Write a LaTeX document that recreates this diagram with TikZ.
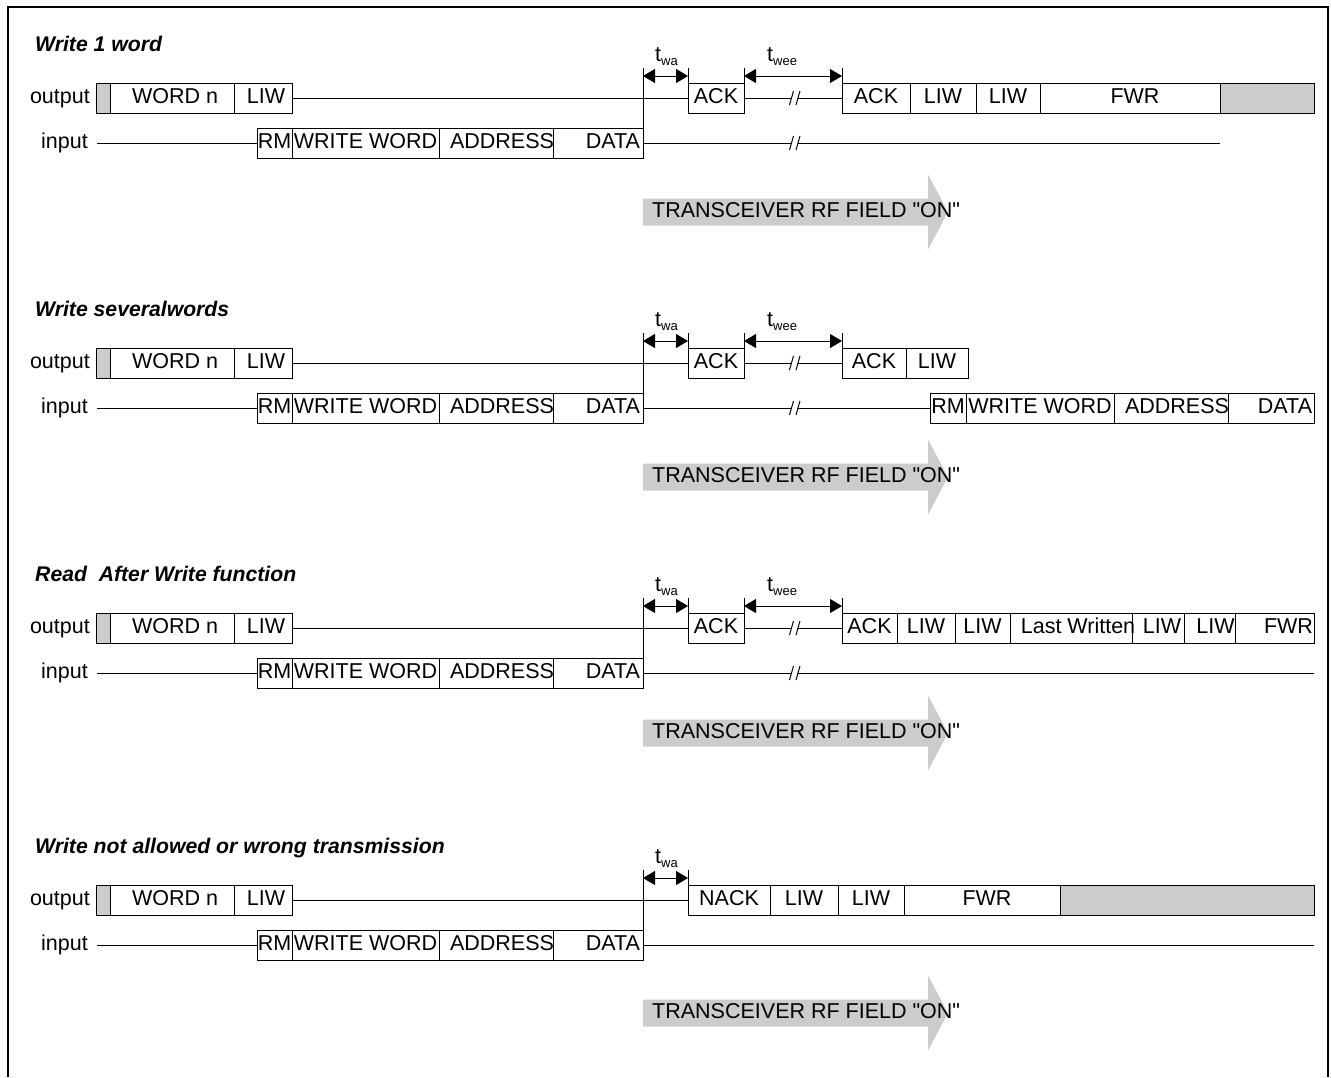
\documentclass[tikz,border=0pt]{standalone}
\usepackage{fontspec}
\setmainfont{Liberation Sans}
\newfontfamily\qf{Liberation Sans}
\usetikzlibrary{arrows.meta}
\newcommand\fsz{\fontsize{21.5}{25}\selectfont}
\newcommand\tsz{\fontsize{21.2}{25}\selectfont}
\newcommand\subf{\fontsize{13}{13}\selectfont}
\tikzset{
  box/.style={draw, line width=1pt, outer sep=0pt, inner xsep=0pt, inner ysep=0pt,
    minimum height=30pt, text height=15pt, text depth=5pt, font=\fsz},
  gfill/.style={fill=gray!40},
  ln/.style={line width=1pt},
  dim/.style={line width=1pt, {Triangle[length=12pt,width=14pt]}-{Triangle[length=12pt,width=14pt]}},
  lab/.style={inner sep=0pt, font=\fsz},
  ttl/.style={inner sep=0pt, font=\tsz\bfseries\itshape},
  frame/.style={line width=2.5pt}
}
% name, x1, x2, y, style, shift, text
\newcommand\bx[7]{\node[box,#5,minimum width={#3-#2},anchor=west] (#1) at (#2,#4)
  {\hspace*{#6pt}#7\hspace*{-\dimexpr#6pt\relax}};}
% break mark: name, y
\newcommand\brk[2]{%
  \coordinate (#1a) at (791,#2); \coordinate (#1b) at (798,#2);
  \draw[ln] (789.5,#2+7) -- (793.5,#2-7) (796,#2+7) -- (800,#2-7);}
% parts common to every panel: title, arrow centre y
\newcommand\common[2]{%
  \fill[gray!40] (643,#2-13.5) -- (928,#2-13.5) -- (928,#2-37.5) -- (948,#2)
     -- (928,#2+37.5) -- (928,#2+13.5) -- (643,#2+13.5) -- cycle;
  \node[lab, anchor=base west] (rf) at (652,#2+5) {TRANSCEIVER RF FIELD {\qf"}ON{\qf"}};
  \node[ttl, anchor=base west] (title) at (35,51.5) {#1};
  \node[lab, anchor=base east] (outl) at (90,103.5) {output};
  \bx{g0}{96}{110}{98}{gfill}{0}{}
  \bx{word}{110}{234}{98}{}{3}{WORD n}
  \bx{liw0}{234}{292}{98}{}{3}{LIW}
  \node[lab, anchor=base east] (inl) at (88,148.5) {input};
  \bx{rm}{257}{292}{143}{}{0}{RM}
  \bx{ww}{292}{439}{143}{}{0}{WRITE WORD}
  \bx{addr}{439}{553}{143}{}{6}{ADDRESS}
  \bx{data}{553}{643}{143}{}{15}{DATA}
  \coordinate (ins) at (97,143);
  \draw[ln] (ins) -- (rm.west);
  \coordinate (v0) at (643,68);
  \draw[ln] (v0) -- (data.south east);
  \coordinate (wa0) at (643,76);
  \coordinate (wa1) at (688,76);
  \coordinate (wat) at (688,68);
  \draw[dim] (wa0) -- (wa1);
  \node[lab, anchor=base west] (twa) at (655,61) {t\raisebox{-4pt}{\subf wa}};
}
\newcommand\resplines{%
  \draw[ln] (liw0.east) -- (resp.west);
  \draw[ln] (wat) -- (resp.north west);}
\newcommand\tweegrp{%
  \coordinate (we0) at (744,76); \coordinate (we1) at (842,76);
  \coordinate (wet0) at (744,68); \coordinate (wet1) at (842,68);
  \draw[dim] (we0) -- (we1);
  \draw[ln] (wet0) -- (resp.north east);
  \draw[ln] (wet1) -- (ack2.north west);
  \node[lab, anchor=base west] (twee) at (767,61) {t\raisebox{-4pt}{\subf wee}};
  \brk{ob}{98}
  \draw[ln] (resp.east) -- (oba);
  \draw[ln] (obb) -- (ack2.west);}
\begin{document}
\begin{tikzpicture}[x=1pt, y=-1pt]
\useasboundingbox (0,0) rectangle (1331,1077);
\draw[frame] (8,1077) -- (8,7) -- (1328,7) -- (1328,1077);

% ---------- panel 1
\begin{scope}[name prefix=p1-]
\common{Write 1 word}{212}
\bx{resp}{688}{744}{98}{}{0}{ACK}
\bx{ack2}{842}{910}{98}{}{0}{ACK}
\bx{liw1}{910}{976}{98}{}{0}{LIW}
\bx{liw2}{976}{1040}{98}{}{0}{LIW}
\bx{fwr}{1040}{1220}{98}{}{5}{FWR}
\bx{g1}{1220}{1314}{98}{gfill}{0}{}
\resplines
\tweegrp
\brk{ib}{143}
\coordinate (iend) at (1220,143);
\draw[ln] (data.east) -- (iba);
\draw[ln] (ibb) -- (iend);
\end{scope}

% ---------- panel 2
\begin{scope}[yshift=-265pt, name prefix=p2-]
\common{Write severalwords}{212}
\bx{resp}{688}{744}{98}{}{0}{ACK}
\bx{ack2}{842}{906}{98}{}{0}{ACK}
\bx{liw1}{906}{968}{98}{}{0}{LIW}
\resplines
\tweegrp
\bx{rm2}{930}{966}{143}{}{0}{RM}
\bx{ww2}{966}{1114}{143}{}{0}{WRITE WORD}
\bx{addr2}{1114}{1228}{143}{}{6}{ADDRESS}
\bx{data2}{1228}{1314}{143}{}{14}{DATA}
\brk{ib}{143}
\draw[ln] (data.east) -- (iba);
\draw[ln] (ibb) -- (rm2.west);
\end{scope}

% ---------- panel 3
\begin{scope}[yshift=-530pt, name prefix=p3-]
\common{Read~~After Write function}{203}
\bx{resp}{688}{744}{98}{}{0}{ACK}
\bx{ack2}{842}{897}{98}{}{0}{ACK}
\bx{liw1}{897}{955}{98}{}{0}{LIW}
\bx{liw2}{955}{1010}{98}{}{0}{LIW}
\bx{lw}{1010}{1132}{98}{}{7}{Last Written}
\bx{liw3}{1132}{1184}{98}{}{4}{LIW}
\bx{liw4}{1184}{1235}{98}{}{6}{LIW}
\bx{fwr}{1235}{1314}{98}{}{14}{FWR}
\resplines
\tweegrp
\brk{ib}{143}
\coordinate (iend) at (1314,143);
\draw[ln] (data.east) -- (iba);
\draw[ln] (ibb) -- (iend);
\end{scope}

% ---------- panel 4
\begin{scope}[yshift=-802pt, name prefix=p4-]
\common{Write not allowed or wrong transmission}{211}
\bx{resp}{688}{770}{98}{}{0}{NACK}
\bx{liw1}{770}{838}{98}{}{0}{LIW}
\bx{liw2}{838}{904}{98}{}{0}{LIW}
\bx{fwr}{904}{1060}{98}{}{5}{FWR}
\bx{g1}{1060}{1314}{98}{gfill}{0}{}
\resplines
\coordinate (iend) at (1314,143);
\draw[ln] (data.east) -- (iend);
\end{scope}
\end{tikzpicture}
\end{document}
